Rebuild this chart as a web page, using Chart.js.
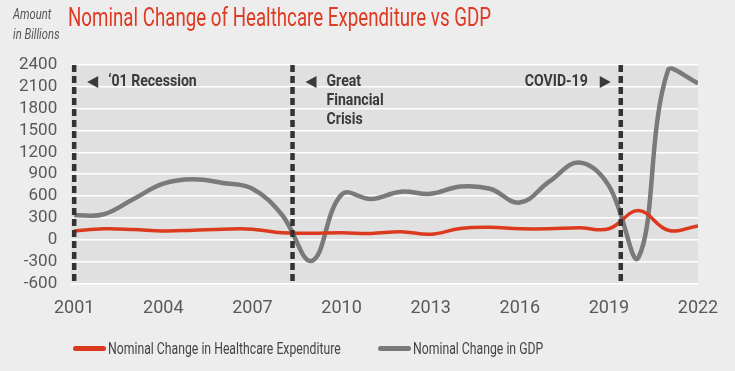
<!DOCTYPE html>
<html>
<head>
<meta charset="utf-8">
<script src="https://cdn.jsdelivr.net/npm/chart.js@4.4.1/dist/chart.umd.min.js"></script>
<style>
    body { margin: 0; background: #ededed; }
    #wrap { position: relative; width: 735px; height: 371px; background: #ededed; font-family: Roboto, sans-serif; overflow: hidden; }
    #chart { position: absolute; left: 0; top: 0; }
    .title { position: absolute; left: 68px; top: 2px; font-size: 26px; color: #df3a22; white-space: nowrap; transform: scaleX(0.72); transform-origin: left top; }
    .unit { position: absolute; left: 13px; font-size: 14px; font-style: italic; color: #555; white-space: nowrap; transform: scaleX(0.8); transform-origin: left top; }
    .legend { position: absolute; top: 338px; font-size: 17px; color: #444; white-space: nowrap; transform: scaleX(0.72); transform-origin: left top; }
    .swatch { position: absolute; top: 346px; width: 33px; height: 5px; border-radius: 3px; }
</style>
</head>
<body>
<div id="wrap">
    <canvas id="chart" width="735" height="371"></canvas>
    <div class="title">Nominal Change of Healthcare Expenditure vs GDP</div>
    <div class="unit" style="top:6px">Amount</div>
    <div class="unit" style="top:26px">in Billions</div>
    <div class="swatch" style="left:73px; background:#dc3a1e"></div>
    <div class="legend" style="left:108px">Nominal Change in Healthcare Expenditure</div>
    <div class="swatch" style="left:378px; background:#7a7a7a"></div>
    <div class="legend" style="left:413px">Nominal Change in GDP</div>
</div>
<script>
// chart values (billions)
const years = [2001, 2002, 2003, 2004, 2005, 2006, 2007, 2008, 2009, 2010, 2011,
               2012, 2013, 2014, 2015, 2016, 2017, 2018, 2019, 2020, 2021, 2022];
const healthcare = [120, 150, 140, 120, 130, 145, 145, 95, 90, 95, 87,
                    110, 75, 155, 170, 150, 150, 165, 150, 400, 130, 190];
const gdp = [335, 350, 560, 770, 830, 780, 700, 340, -290, 620, 560,
             660, 630, 730, 700, 510, 800, 1060, 740, -240, 2340, 2150];
const xTicks = [2001, 2004, 2007, 2010, 2013, 2016, 2019, 2022];
const eventYears = [2001, 2008.35, 2019.4];
const eventLabels = [
    { year: 2001, lines: ['\u201801 Recession'], dir: 'left' },
    { year: 2008.35, lines: ['Great', 'Financial', 'Crisis'], dir: 'left' },
    { year: 2019.4, lines: ['COVID-19'], dir: 'right' }
];

const plotBackground = {
    id: 'plotBackground',
    beforeDraw(chart) {
        const { ctx, chartArea: a } = chart;
        ctx.save();
        ctx.fillStyle = '#e0e0e0';
        ctx.fillRect(a.left, a.top, a.right - a.left, a.bottom - a.top);
        ctx.restore();
    }
};

const eventMarkers = {
    id: 'eventMarkers',
    afterDatasetsDraw(chart) {
        const { ctx, chartArea: a, scales } = chart;
        ctx.save();
        ctx.strokeStyle = '#333';
        ctx.lineWidth = 4.5;
        ctx.setLineDash([7, 4]);
        eventYears.forEach(yr => {
            const x = scales.x.getPixelForValue(yr);
            ctx.beginPath();
            ctx.moveTo(x, a.top);
            ctx.lineTo(x, a.bottom);
            ctx.stroke();
        });
        ctx.setLineDash([]);

        ctx.fillStyle = '#3a3a3a';
        ctx.font = 'bold 16px Roboto';
        ctx.textBaseline = 'middle';
        const scale = 0.88;
        eventLabels.forEach(ev => {
            const x = scales.x.getPixelForValue(ev.year);
            const y0 = a.top + 17;
            if (ev.dir === 'left') {
                // triangle pointing left, then text
                ctx.beginPath();
                ctx.moveTo(x + 13, y0);
                ctx.lineTo(x + 24, y0 - 6);
                ctx.lineTo(x + 24, y0 + 6);
                ctx.closePath();
                ctx.fill();
                ev.lines.forEach((t, i) => {
                    ctx.save();
                    ctx.translate(x + 34, y0 + i * 19);
                    ctx.scale(scale, 1);
                    ctx.textAlign = 'left';
                    ctx.fillText(t, 0, 0);
                    ctx.restore();
                });
            } else {
                ctx.beginPath();
                ctx.moveTo(x - 10, y0);
                ctx.lineTo(x - 21, y0 - 6);
                ctx.lineTo(x - 21, y0 + 6);
                ctx.closePath();
                ctx.fill();
                ev.lines.forEach((t, i) => {
                    ctx.save();
                    ctx.translate(x - 33, y0 + i * 19);
                    ctx.scale(scale, 1);
                    ctx.textAlign = 'right';
                    ctx.fillText(t, 0, 0);
                    ctx.restore();
                });
            }
        });
        ctx.restore();
    }
};

new Chart(document.getElementById('chart'), {
    type: 'line',
    data: {
        datasets: [
            {
                label: 'Nominal Change in Healthcare Expenditure',
                data: years.map((y, i) => ({ x: y, y: healthcare[i] })),
                borderColor: '#dc3a1e',
                borderWidth: 3.5,
                tension: 0.4,
                pointRadius: 0
            },
            {
                label: 'Nominal Change in GDP',
                data: years.map((y, i) => ({ x: y, y: gdp[i] })),
                borderColor: '#7a7a7a',
                borderWidth: 4.5,
                tension: 0.4,
                pointRadius: 0
            }
        ]
    },
    options: {
        responsive: false,
        animation: false,
        devicePixelRatio: 1,
        layout: { padding: { top: 65, left: 5, right: 37, bottom: 38 } },
        plugins: {
            legend: { display: false },
            tooltip: { enabled: false }
        },
        scales: {
            x: {
                type: 'linear',
                min: 2000.9,
                max: 2022,
                afterBuildTicks: axis => { axis.ticks = xTicks.map(v => ({ value: v })); },
                grid: { display: false, drawTicks: false },
                border: { display: false },
                ticks: {
                    padding: 14,
                    color: '#595959',
                    autoSkip: false,
                    font: { family: 'Roboto', size: 18 },
                    maxRotation: 0,
                    callback: v => String(v)
                }
            },
            y: {
                min: -600,
                max: 2400,
                grid: { color: '#ffffff', lineWidth: 1.5, drawTicks: false },
                border: { display: false },
                ticks: {
                    stepSize: 300,
                    padding: 14,
                    autoSkip: false,
                    color: '#595959',
                    font: { family: 'Roboto', size: 17 },
                    callback: v => String(v)
                }
            }
        }
    },
    plugins: [plotBackground, eventMarkers]
});
</script>
</body>
</html>
